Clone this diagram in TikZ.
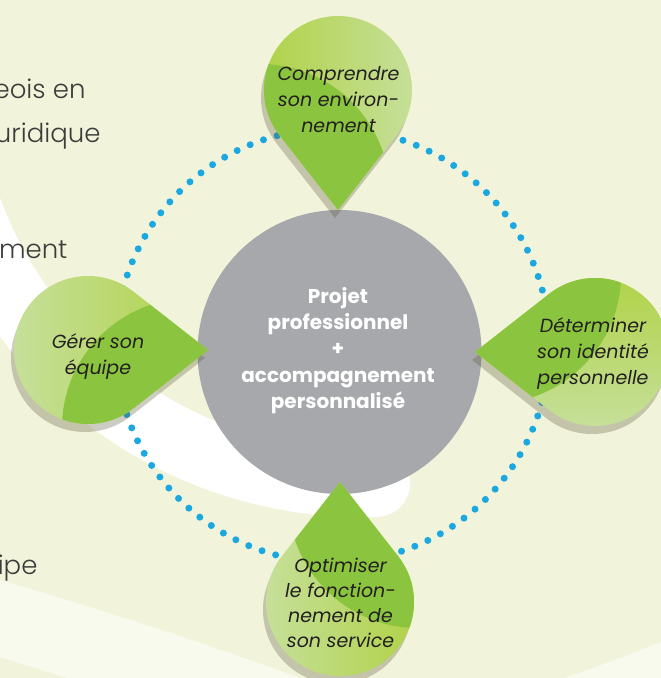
\documentclass[tikz,border=0pt]{standalone}
\usepackage{fontspec}
\setmainfont{Poppins}
\newfontfamily\lightfont{Poppins}[UprightFont={* Light}]
\usepackage{tikz}
\usetikzlibrary{calc}

\definecolor{cream}{RGB}{241,244,218}
\definecolor{paleband}{RGB}{248,250,238}
\definecolor{discgrey}{RGB}{166,168,171}
\definecolor{dotblue}{RGB}{27,167,224}
\definecolor{leafdark}{RGB}{139,197,63}
\definecolor{leafyellow}{RGB}{176,210,70}
\definecolor{leafpale}{RGB}{199,224,158}
\definecolor{inktext}{RGB}{35,31,32}
\definecolor{sidegrey}{RGB}{60,60,60}
\definecolor{shadowtone}{RGB}{90,88,60}

\begin{document}
\begin{tikzpicture}
% styles
[
    x=1pt,y=-1pt,
    dropshadow/.style={fill=shadowtone,opacity=0.3},
    droptext/.style={align=center,text=inktext,font=\itshape\fontsize{19}{26}\selectfont},
    sidetext/.style={anchor=base east,text=sidegrey,font=\lightfont\fontsize{26}{30}\selectfont}
]

% background
\fill[cream] (0,0) rectangle (661,678);
\useasboundingbox (0,0) rectangle (661,678);
\clip (0,0) rectangle (661,678);

% white swoosh
\begin{scope}[shift={(362,64)}]
  \fill[white] (88:453) arc[start angle=88,end angle=200,radius=453]
    -- (200:386) arc[start angle=200,end angle=88,radius=386] -- cycle;
  \fill[white] (88:419.5) circle (33.5);
\end{scope}

% pale bands
\fill[paleband] (0,580) .. controls (110,612) and (210,645) .. (300,678)
  -- (67,678) .. controls (45,671) and (22,664) .. (0,657) -- cycle;
\fill[paleband] (563,678) .. controls (597,667) and (630,654) .. (661,642)
  -- (661,678) -- cycle;

% side text
\node[sidetext] (frag1) at (89,98) {eois en};
\node[sidetext] (frag2) at (104,142) {uridique};
\node[sidetext] (frag3) at (71,258) {ement};
\node[sidetext] (frag4) at (41,574) {ipe};

% dotted ring
\begin{scope}[shift={(332.5,345.5)}]
  \foreach \k in {0,...,95}
    \fill[dotblue] (\k*3.75+0.2:217) circle (3.5);
\end{scope}

% hub
\fill[discgrey] (339.5,352) circle (142);

% drops
\pgfmathsetmacro{\R}{74}    % round radius
\pgfmathsetmacro{\D}{120}   % tip distance
\pgfmathsetmacro{\T}{acos(\R/\D)}
\def\droppath{(\dir:\D) -- (\dir-\T:\R) arc[start angle=\dir-\T,delta angle=2*\T-360,radius=\R] -- cycle}

\foreach \cx/\cy/\dir/\sh in {338/90/90/90, 595/352/180/0, 340/602/270/-90, 88/350/0/-90}{
  \begin{scope}[shift={(\cx,\cy)}]
    \fill[dropshadow,shift={(-3,8)}] \droppath;
    \shade[top color=leafyellow,bottom color=leafpale,shading angle=\sh] \droppath;
    \begin{scope}
      \clip \droppath;
      \fill[leafdark] (\dir+36.9:130) circle (130);
    \end{scope}
  \end{scope}
}

% labels
\node[align=center,text=white,font=\bfseries\fontsize{20}{26.3}\selectfont] (hub) at (338,350.5)
  {Projet\\professionnel\\+\\accompagnement\\personnalisé};
\node[droptext] (comprendre) at (338.5,99.5) {Comprendre\\son environ-\\nement};
\node[droptext] (determiner) at (593,354) {Déterminer\\son identité\\personnelle};
\node[droptext,font=\itshape\fontsize{19}{25}\selectfont] (optimiser) at (340.5,602.5)
  {Optimiser\\le fonction-\\nement de\\son service};
\node[droptext] (gerer) at (98,356.5) {Gérer son\\équipe};

\end{tikzpicture}
\end{document}
